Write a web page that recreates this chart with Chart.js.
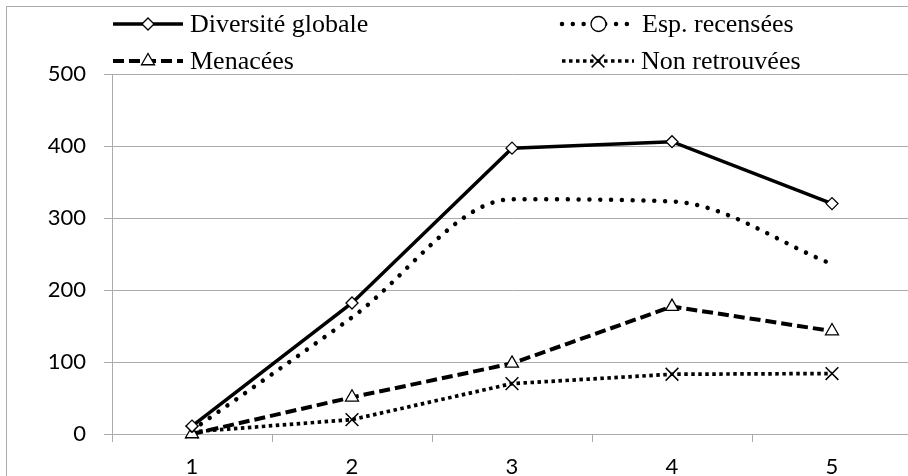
<!DOCTYPE html>
<html lang="fr">
<head>
<meta charset="utf-8">
<script src="https://cdn.jsdelivr.net/npm/chart.js@4.4.1/dist/chart.umd.min.js"></script>
<style>
  html, body { margin: 0; padding: 0; background: #fff; overflow: hidden; }
  #wrap { position: relative; width: 930px; height: 480px; }
  .lg { position: absolute; font: 26px "Times New Roman", "Liberation Serif", serif; line-height: 26px; color: #000; white-space: nowrap; font-kerning: none; }
</style>
</head>
<body>
<div id="wrap"><canvas id="chart" width="930" height="480"></canvas></div>
<script>
// data
const categories = ['1', '2', '3', '4', '5'];
const seriesNames = ['Diversité globale', 'Esp. recensées', 'Menacées', 'Non retrouvées'];
const diversite = [11, 182, 397, 406, 320];
const recensees = [5, 162, 326, 323, 236];
const menacees = [0, 51, 98, 177, 143];
const nonRetrouvees = [3, 20, 70, 83, 84];
const yMin = 0, yMax = 500, yStep = 100;

const gridColor = '#ababab';
const tickFont = { family: 'Lato', size: 22 };

// line look of each series
const styles = [
  { dash: [], width: 3.5, cap: 'butt', point: 'rectRot', radius: 6, interp: 'default' },
  { dash: [0.01, 10.8], width: 4.5, cap: 'round', point: 'circle', radius: 0, legendRadius: 7.5, interp: 'monotone' },
  { dash: [11, 5], width: 4, cap: 'butt', point: 'triangle', radius: 7.5, interp: 'default' },
  { dash: [3.5, 3.5], width: 3.7, cap: 'butt', point: 'crossRot', radius: 9, interp: 'default' }
];
const values = [diversite, recensees, menacees, nonRetrouvees];

function drawMarker(ctx, type, x, y, r) {
  ctx.save();
  ctx.setLineDash([]);
  ctx.lineWidth = 1.3;
  ctx.strokeStyle = '#000';
  ctx.fillStyle = '#fff';
  ctx.beginPath();
  if (type === 'rectRot') {
    ctx.moveTo(x - r, y); ctx.lineTo(x, y - r); ctx.lineTo(x + r, y); ctx.lineTo(x, y + r);
    ctx.closePath(); ctx.fill(); ctx.stroke();
  } else if (type === 'circle') {
    ctx.arc(x, y, r, 0, Math.PI * 2); ctx.fill(); ctx.stroke();
  } else if (type === 'triangle') {
    ctx.moveTo(x, y - r); ctx.lineTo(x + r * 0.866, y + r / 2); ctx.lineTo(x - r * 0.866, y + r / 2);
    ctx.closePath(); ctx.fill(); ctx.stroke();
  } else if (type === 'crossRot') {
    const d = r * 0.707;
    ctx.lineWidth = 1.5;
    ctx.moveTo(x - d, y - d); ctx.lineTo(x + d, y + d);
    ctx.moveTo(x + d, y - d); ctx.lineTo(x - d, y + d);
    ctx.stroke();
  }
  ctx.restore();
}

// outer frame (cut off on the right and bottom)
const framePlugin = {
  id: 'frame',
  beforeDraw(chart) {
    const ctx = chart.ctx;
    ctx.save();
    ctx.strokeStyle = gridColor;
    ctx.lineWidth = 1;
    ctx.strokeRect(6.5, 6.5, 2000, 2000);
    ctx.restore();
  }
};

// legend in two columns: line sample + marker on the canvas, names as html text
const legendSpots = [
  { x: 113, y: 24, len: 70 },
  { x: 562, y: 24, len: 73 },
  { x: 113, y: 61, len: 70 },
  { x: 562, y: 61, len: 72 }
];
const legendPlugin = {
  id: 'legendLines',
  afterDraw(chart) {
    const ctx = chart.ctx;
    seriesNames.forEach((name, i) => {
      const s = styles[i], p = legendSpots[i];
      ctx.save();
      ctx.beginPath();
      ctx.setLineDash(s.dash);
      ctx.lineWidth = s.width;
      ctx.lineCap = s.cap;
      ctx.strokeStyle = '#000';
      ctx.moveTo(p.x, p.y);
      ctx.lineTo(p.x + p.len, p.y);
      ctx.stroke();
      ctx.restore();
      drawMarker(ctx, s.point, p.x + p.len / 2, p.y, s.legendRadius || s.radius);
    });
  }
};

const wrap = document.getElementById('wrap');
seriesNames.forEach((name, i) => {
  const p = legendSpots[i];
  const el = document.createElement('div');
  el.className = 'lg';
  el.textContent = name;
  el.style.left = (p.x + p.len + 7) + 'px';
  el.style.top = (p.y + 9 - 22) + 'px';
  wrap.appendChild(el);
});

const datasets = seriesNames.map((name, i) => ({
  label: name,
  data: values[i],
  borderColor: '#000',
  borderWidth: styles[i].width,
  borderDash: styles[i].dash,
  borderCapStyle: styles[i].cap,
  cubicInterpolationMode: styles[i].interp,
  tension: 0,
  pointStyle: styles[i].point,
  pointRadius: styles[i].radius,
  pointHoverRadius: styles[i].radius,
  pointBackgroundColor: '#fff',
  pointBorderColor: '#000',
  pointBorderWidth: styles[i].point === 'crossRot' ? 1.5 : 1.3,
  fill: false,
  clip: false
}));

const ctx = document.getElementById('chart').getContext('2d');
const chart = new Chart(ctx, {
  type: 'line',
  data: { labels: categories, datasets: datasets },
  plugins: [framePlugin, legendPlugin],
  options: {
    responsive: false,
    devicePixelRatio: 1,
    animation: false,
    layout: { padding: { top: 74, left: 0, right: 18, bottom: 0 } },
    plugins: { legend: { display: false }, tooltip: { enabled: false } },
    scales: {
      x: {
        type: 'category',
        offset: true,
        grid: { offset: true, drawOnChartArea: false, drawTicks: true, tickLength: 8, color: gridColor, lineWidth: 1 },
        border: { display: true, color: gridColor, width: 1 },
        ticks: { font: tickFont, color: '#000', padding: 12, maxRotation: 0 },
        afterFit(scale) { scale.height = 46; }
      },
      y: {
        min: yMin,
        max: yMax,
        grid: { color: gridColor, lineWidth: 1, tickLength: 8 },
        border: { display: true, color: gridColor, width: 1 },
        ticks: { stepSize: yStep, font: tickFont, color: '#000', padding: 18 },
        afterFit(scale) { scale.width = 112; }
      }
    }
  }
});
</script>
</body>
</html>
